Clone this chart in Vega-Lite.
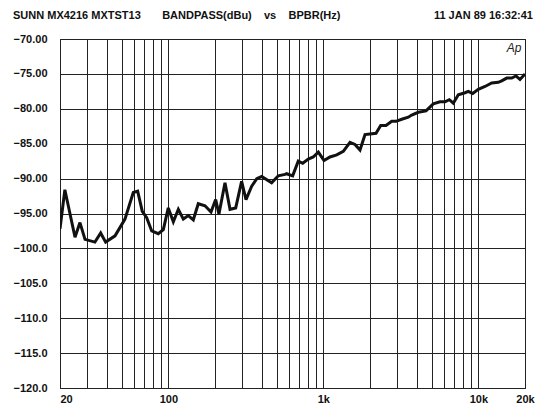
{
  "$schema": "https://vega.github.io/schema/vega-lite/v6.json",
  "width": 465,
  "height": 349,
  "autosize": {"type": "none"},
  "padding": {"left": 60, "top": 39, "right": 16, "bottom": 21},
  "background": "white",
  "config": {
    "view": {"stroke": "#111", "strokeWidth": 1},
    "font": "Liberation Sans"
  },
  "encoding": {
    "x": {
      "field": "f", "type": "quantitative",
      "scale": {"type": "log", "domain": [20, 20000], "nice": false},
      "axis": {
        "values": [20, 30, 40, 50, 60, 70, 80, 90, 100, 200, 300, 400, 500, 600, 700, 800, 900, 1000, 2000, 3000, 4000, 5000, 6000, 7000, 8000, 9000, 10000, 20000],
        "grid": true, "gridColor": "#222", "gridWidth": 1, "gridOpacity": 1,
        "labelExpr": "datum.value == 20 ? '20' : datum.value == 100 ? '100' : datum.value == 1000 ? '1k' : datum.value == 10000 ? '10k' : datum.value == 20000 ? '20k' : ''",
        "labelAlign": {"condition": {"test": "datum.value == 20", "value": "left"}, "value": "center"},
        "labelFont": "Liberation Sans", "labelFontSize": 11, "labelFontWeight": "bold", "labelColor": "#111",
        "labelPadding": 5, "labelFlush": false, "labelOverlap": false, "labelBound": false,
        "ticks": false, "domain": false, "title": null
      }
    },
    "y": {
      "field": "v", "type": "quantitative",
      "scale": {"domain": [-120, -70], "nice": false},
      "axis": {
        "values": [-120, -115, -110, -105, -100, -95, -90, -85, -80, -75, -70],
        "grid": true, "gridColor": "#222", "gridWidth": 1, "gridOpacity": 1,
        "labelExpr": "abs(datum.value) < 100 ? format(datum.value, '.2f') : format(datum.value, '.1f')",
        "labelFont": "Liberation Sans", "labelFontSize": 11, "labelFontWeight": "bold", "labelColor": "#111",
        "labelPadding": 13, "labelOverlap": false, "labelFlush": false, "ticks": false, "domain": false, "title": null
      }
    }
  },
  "layer": [
    {
      "data": {
        "values": [
          {"f": 20, "v": -97.2}, {"f": 21.5, "v": -91.6}, {"f": 25.0, "v": -98.4},
          {"f": 26.9, "v": -96.3}, {"f": 29.0, "v": -98.7}, {"f": 33.6, "v": -99.1},
          {"f": 36.6, "v": -97.8}, {"f": 39.4, "v": -99.1}, {"f": 45.3, "v": -98.2},
          {"f": 52.5, "v": -95.8}, {"f": 59.4, "v": -92.0}, {"f": 63.4, "v": -91.8},
          {"f": 67.9, "v": -94.7}, {"f": 72.5, "v": -95.6}, {"f": 78.1, "v": -97.5},
          {"f": 86.1, "v": -97.9}, {"f": 92.8, "v": -97.3}, {"f": 99.9, "v": -94.2},
          {"f": 107.7, "v": -96.2}, {"f": 116, "v": -94.4}, {"f": 124.9, "v": -95.8},
          {"f": 134.5, "v": -95.3}, {"f": 144.9, "v": -95.9}, {"f": 156, "v": -93.6},
          {"f": 172.4, "v": -93.9}, {"f": 188.5, "v": -94.8}, {"f": 202, "v": -93.0},
          {"f": 212, "v": -95.1}, {"f": 232, "v": -90.6}, {"f": 250, "v": -94.4},
          {"f": 272, "v": -94.2}, {"f": 297, "v": -90.4}, {"f": 317, "v": -93.0},
          {"f": 345, "v": -91.1}, {"f": 372, "v": -90.0}, {"f": 400, "v": -89.7},
          {"f": 464, "v": -90.6}, {"f": 512, "v": -89.6}, {"f": 566, "v": -89.4},
          {"f": 580, "v": -89.3}, {"f": 634, "v": -89.6}, {"f": 689, "v": -87.5},
          {"f": 736, "v": -87.8}, {"f": 800, "v": -87.2}, {"f": 861, "v": -86.9},
          {"f": 928, "v": -86.2}, {"f": 1010, "v": -87.4}, {"f": 1104, "v": -86.9},
          {"f": 1220, "v": -86.6}, {"f": 1345, "v": -86.1}, {"f": 1486, "v": -84.8},
          {"f": 1600, "v": -85.1}, {"f": 1724, "v": -85.9}, {"f": 1857, "v": -83.7},
          {"f": 2000, "v": -83.6}, {"f": 2187, "v": -83.5}, {"f": 2345, "v": -82.4},
          {"f": 2536, "v": -82.4}, {"f": 2761, "v": -81.8}, {"f": 2944, "v": -81.8},
          {"f": 3204, "v": -81.5}, {"f": 3534, "v": -81.2}, {"f": 3716, "v": -80.9},
          {"f": 4098, "v": -80.5}, {"f": 4596, "v": -80.3}, {"f": 5122, "v": -79.3},
          {"f": 5658, "v": -79.0}, {"f": 6096, "v": -79.0}, {"f": 6496, "v": -78.7},
          {"f": 6894, "v": -79.2}, {"f": 7424, "v": -78.0}, {"f": 8202, "v": -77.7},
          {"f": 8614, "v": -77.5}, {"f": 9196, "v": -77.8}, {"f": 9994, "v": -77.2},
          {"f": 11040, "v": -76.8}, {"f": 12200, "v": -76.3}, {"f": 13450, "v": -76.2},
          {"f": 14150, "v": -76.0}, {"f": 15240, "v": -75.6}, {"f": 16420, "v": -75.6},
          {"f": 17500, "v": -75.3}, {"f": 18560, "v": -75.8}, {"f": 20000, "v": -75.0}
        ]
      },
      "mark": {"type": "line", "color": "#111", "strokeWidth": 3, "strokeJoin": "miter", "strokeMiterLimit": 3, "clip": true}
    },
    {
      "data": {"values": [{"label": "SUNN MX4216 MXTST13\u00a0\u00a0\u00a0\u00a0\u00a0\u00a0\u00a0BANDPASS(dBu)\u00a0\u00a0\u00a0\u00a0vs\u00a0\u00a0\u00a0\u00a0BPBR(Hz)", "f": 20, "v": -70}]},
      "mark": {"type": "text", "align": "left", "baseline": "middle", "font": "Liberation Sans", "fontSize": 11, "fontWeight": "bold", "color": "#111", "dx": -47, "dy": -23},
      "encoding": {"text": {"field": "label"}}
    },
    {
      "data": {"values": [{"label": "11 JAN 89 16:32:41", "f": 20000, "v": -70}]},
      "mark": {"type": "text", "align": "right", "baseline": "middle", "font": "Liberation Sans", "fontSize": 11, "fontWeight": "bold", "color": "#111", "dx": 8, "dy": -23},
      "encoding": {"text": {"field": "label"}}
    },
    {
      "data": {"values": [{"label": "Ap", "f": 17000, "v": -71.3}]},
      "mark": {"type": "text", "align": "center", "baseline": "middle", "font": "Liberation Sans", "fontSize": 12, "fontStyle": "italic", "color": "#222"},
      "encoding": {"text": {"field": "label"}}
    }
  ]
}
